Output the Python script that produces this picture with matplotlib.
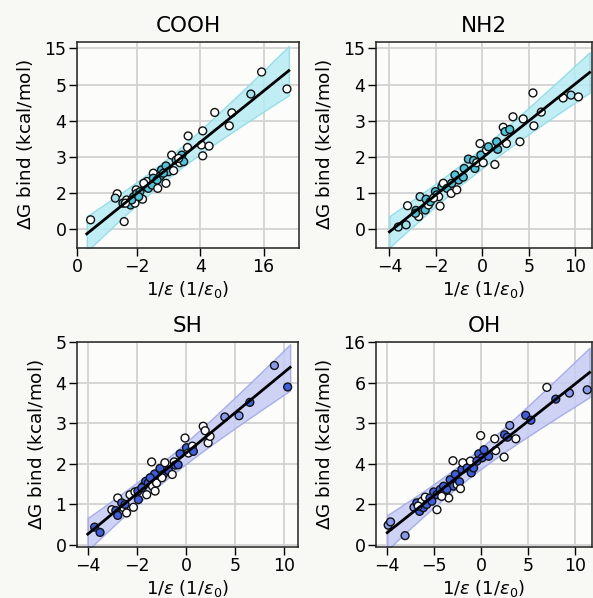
import matplotlib
matplotlib.use('Agg')
import matplotlib.pyplot as plt
import numpy as np

# values are in tick-slot units (the picture's tick labels are not a linear scale)
titles = ['COOH', 'NH2', 'SH', 'OH']
xtick_labels = [['0', '\u22122', '4', '16'],
                ['\u22124', '\u22122', '0', '5', '10'],
                ['\u22124', '\u22122', '0', '5', '10'],
                ['\u22124', '\u22125', '0', '5', '10']]
ytick_labels = [['0', '2', '3', '4', '5', '15'],
                ['0', '1', '2', '3', '4', '15'],
                ['0', '1', '2', '3', '4', '5'],
                ['0', '2', '4', '3', '6', '16']]

# f = filled, l = light filled, h = hollow
cooh_x = [0.27, 0.80, 0.69, 0.66, 0.78, 0.84, 0.90, 0.95, 0.99, 1.00, 0.97, 1.09, 1.05, 1.13, 1.16,
          1.18, 1.24, 1.26, 1.26, 1.33, 1.37, 1.39, 1.46, 1.46, 1.50, 1.55, 1.58, 1.62, 1.68, 1.71,
          1.74, 1.80, 1.81, 2.04, 2.04, 2.02, 2.14, 2.23, 2.46, 2.50, 2.80, 2.97, 3.37, 1.11, 0.92,
          0.82, 1.03, 1.32, 1.42, 1.66]
cooh_y = [0.26, 0.21, 0.98, 0.86, 0.72, 0.81, 0.67, 0.90, 1.09, 0.99, 0.72, 0.83, 1.04, 1.18, 1.32,
          1.13, 1.22, 1.55, 1.41, 1.13, 1.47, 1.64, 1.27, 1.75, 1.59, 2.05, 1.62, 1.91, 1.84, 2.05,
          1.87, 2.26, 2.58, 2.72, 2.03, 2.33, 2.30, 3.23, 2.86, 3.22, 3.74, 4.35, 3.88, 1.27, 0.81,
          0.72, 0.90, 1.36, 1.55, 1.96]
cooh_kind = ['h', 'h', 'h', 'l', 'f', 'h', 'f', 'f', 'h', 'f', 'h', 'h', 'f', 'f', 'h',
             'f', 'f', 'h', 'f', 'h', 'f', 'f', 'h', 'f', 'f', 'h', 'h', 'f', 'h', 'f',
             'f', 'h', 'h', 'h', 'h', 'h', 'h', 'h', 'h', 'h', 'l', 'h', 'h', 'h', 'f',
             'h', 'f', 'f', 'f', 'h']

nh2_x = [0.19, 0.36, 0.39, 0.57, 0.63, 0.66, 0.79, 0.77, 0.84, 0.88, 0.99, 1.02, 1.09, 1.06, 1.13,
         1.16, 1.24, 1.33, 1.41, 1.45, 1.49, 1.59, 1.61, 1.70, 1.81, 1.84, 1.88, 1.95, 1.97, 2.02,
         2.09, 2.13, 2.27, 2.31, 2.33, 2.45, 2.49, 2.52, 2.59, 2.66, 2.81, 2.88, 3.09, 3.11, 3.27,
         3.74, 3.91, 4.07, 1.34, 0.95, 0.56]
nh2_y = [0.06, 0.12, 0.65, 0.52, 0.35, 0.90, 0.83, 0.53, 0.67, 0.76, 1.04, 0.95, 0.64, 0.90, 1.18,
         1.27, 1.13, 0.99, 1.50, 1.09, 1.36, 1.44, 1.68, 1.94, 1.90, 1.68, 1.84, 2.37, 2.05, 1.84,
         2.19, 2.28, 1.79, 2.42, 2.21, 2.82, 2.70, 2.37, 2.76, 3.11, 2.42, 3.05, 3.77, 2.86, 3.24,
         3.63, 3.71, 3.66, 1.27, 0.86, 0.44]
nh2_kind = ['l', 'l', 'h', 'f', 'h', 'l', 'f', 'f', 'h', 'f', 'f', 'f', 'h', 'h', 'f',
            'h', 'f', 'h', 'f', 'h', 'f', 'f', 'f', 'f', 'f', 'f', 'h', 'h', 'f', 'h',
            'h', 'f', 'h', 'f', 'f', 'h', 'f', 'h', 'f', 'h', 'h', 'h', 'h', 'h', 'h',
            'h', 'l', 'h', 'f', 'h', 'f']

sh_x = [0.14, 0.25, 0.49, 0.57, 0.61, 0.61, 0.69, 0.73, 0.79, 0.86, 0.93, 0.96, 1.03, 1.02, 1.13,
        1.18, 1.20, 1.23, 1.30, 1.32, 1.37, 1.36, 1.40, 1.47, 1.54, 1.57, 1.64, 1.72, 1.76, 1.78,
        1.84, 1.88, 1.98, 2.01, 2.05, 2.13, 2.15, 2.35, 2.39, 2.45, 2.49, 2.79, 3.08, 3.30, 3.80,
        4.07, 1.10, 0.76, 1.51, 1.27]
sh_y = [0.43, 0.30, 0.86, 0.84, 1.15, 0.72, 1.03, 0.91, 0.78, 1.23, 0.92, 1.30, 1.11, 1.32, 1.44,
        1.56, 1.23, 1.52, 2.04, 1.44, 1.32, 1.74, 1.52, 1.88, 1.73, 2.02, 1.83, 1.73, 2.04, 1.96,
        1.97, 2.24, 2.63, 2.39, 2.26, 2.43, 2.30, 2.92, 2.81, 2.51, 2.67, 3.15, 3.18, 3.51, 4.42,
        3.89, 1.40, 0.99, 1.65, 1.65]
sh_kind = ['f', 'f', 'h', 'f', 'h', 'f', 'f', 'h', 'h', 'h', 'h', 'h', 'f', 'f', 'h',
           'f', 'h', 'f', 'h', 'h', 'h', 'f', 'h', 'f', 'f', 'h', 'f', 'h', 'h', 'f',
           'f', 'f', 'h', 'f', 'h', 'h', 'f', 'h', 'h', 'h', 'h', 'l', 'l', 'f', 'l',
           'f', 'f', 'f', 'h', 'f']

oh_x = [0.02, 0.07, 0.38, 0.57, 0.63, 0.69, 0.74, 0.77, 0.81, 0.84, 0.91, 0.99, 1.06, 1.06, 1.13,
        1.20, 1.24, 1.31, 1.34, 1.40, 1.41, 1.49, 1.54, 1.56, 1.59, 1.61, 1.70, 1.77, 1.79, 1.84,
        1.95, 1.99, 2.02, 2.06, 2.16, 2.29, 2.31, 2.49, 2.50, 2.56, 2.61, 2.74, 2.95, 3.06, 3.40,
        3.59, 3.88, 4.26, 0.95, 1.27, 1.16, 1.45, 1.91, 0.66]
oh_y = [0.48, 0.56, 0.22, 0.92, 1.03, 0.82, 1.07, 0.91, 1.17, 0.99, 1.15, 1.30, 0.86, 1.23, 1.36,
        1.44, 1.28, 1.15, 1.60, 2.07, 1.44, 1.48, 1.55, 1.38, 1.85, 2.02, 1.89, 2.06, 1.77, 1.89,
        2.24, 2.69, 2.14, 2.34, 2.18, 2.61, 2.32, 2.16, 2.71, 2.65, 2.94, 2.61, 3.19, 3.07, 3.88,
        3.59, 3.74, 3.82, 1.07, 1.36, 1.19, 1.73, 2.06, 0.95]
oh_kind = ['l', 'l', 'l', 'l', 'f', 'f', 'h', 'f', 'h', 'f', 'f', 'f', 'h', 'f', 'f',
           'f', 'f', 'h', 'f', 'h', 'f', 'h', 'f', 'h', 'f', 'h', 'f', 'h', 'f', 'f',
           'f', 'h', 'f', 'f', 'f', 'h', 'h', 'h', 'f', 'f', 'l', 'h', 'f', 'f', 'h',
           'f', 'l', 'l', 'f', 'f', 'h', 'f', 'f', 'h']

line_span = [(0.21, 3.40), (0.0, 4.31), (0.0, 4.12), (0.0, 4.31)]
band_a = [0.28, 0.28, 0.25, 0.25]
band_b = [0.32, 0.19, 0.20, 0.21]

xs = [cooh_x, nh2_x, sh_x, oh_x]
ys = [cooh_y, nh2_y, sh_y, oh_y]
kinds = [cooh_kind, nh2_kind, sh_kind, oh_kind]

cyan = {'f': '#4cc4d9', 'l': '#a2e2ec', 'h': 'white'}
blue = {'f': '#3d5ee0', 'l': '#889bee', 'h': 'white'}
palettes = [cyan, cyan, blue, blue]
band_fill = ['#b6ecf4', '#b6ecf4', '#c6ccf5', '#c6ccf5']
band_edge = ['#8adae8', '#8adae8', '#9ba5ea', '#9ba5ea']

xlims = [(0.055, 3.56), (-0.29, 4.36), (-0.22, 4.28), (-0.24, 4.36)]
xticks = [[0.055, 1, 2, 3], [0, 1, 2, 3, 4], [0, 1, 2, 3, 4], [0, 1, 2, 3, 4]]
ylims = [(-0.52, 5.18), (-0.52, 5.18), (-0.06, 5.0), (-0.06, 5.0)]

boxes = [[0.1298, 0.5853, 0.3744, 0.3445],
         [0.634, 0.5853, 0.3642, 0.3445],
         [0.1298, 0.0853, 0.3727, 0.3428],
         [0.634, 0.0853, 0.3642, 0.3428]]

fig = plt.figure(figsize=(5.93, 5.98), dpi=100, facecolor='#f8f8f5')

for i in range(4):
    ax = fig.add_axes(boxes[i], facecolor='#fcfcfa')
    x = np.array(xs[i])
    y = np.array(ys[i])
    slope, icpt = np.polyfit(x, y, 1)
    xx = np.linspace(line_span[i][0], line_span[i][1], 100)
    yy = slope * xx + icpt
    hw = np.sqrt(band_a[i] ** 2 + (band_b[i] * (xx - x.mean())) ** 2)
    ax.fill_between(xx, yy - hw, yy + hw, color=band_fill[i], alpha=0.85,
                    edgecolor=band_edge[i], linewidth=1.0, zorder=2)
    cols = [palettes[i][k] for k in kinds[i]]
    ax.scatter(x, y, s=32, c=cols, edgecolors='#111111', linewidths=1.0, zorder=3)
    ax.plot(xx, yy, color='black', linewidth=2.0, zorder=4)

    ax.set_xlim(*xlims[i])
    ax.set_ylim(*ylims[i])
    ax.set_xticks(xticks[i])
    ax.set_xticklabels(xtick_labels[i])
    ax.set_yticks(range(6))
    ax.set_yticklabels(ytick_labels[i])
    ax.grid(True, color='#d3d3d3', linewidth=1.3)
    ax.set_axisbelow(True)
    ax.tick_params(labelsize=12.5, length=5.5, width=1, pad=2)
    for s in ax.spines.values():
        s.set_color('#222222')
        s.set_linewidth(1.1)
    ax.set_title(titles[i], fontsize=15.5, pad=7)
    ax.set_xlabel(r'$1/\varepsilon$ $(1/\varepsilon_0)$', fontsize=13, labelpad=2)
    ax.set_ylabel(r'$\Delta$G bind (kcal/mol)', fontsize=13.2, labelpad=7)

fig.savefig('out.png', dpi=100, facecolor=fig.get_facecolor())
